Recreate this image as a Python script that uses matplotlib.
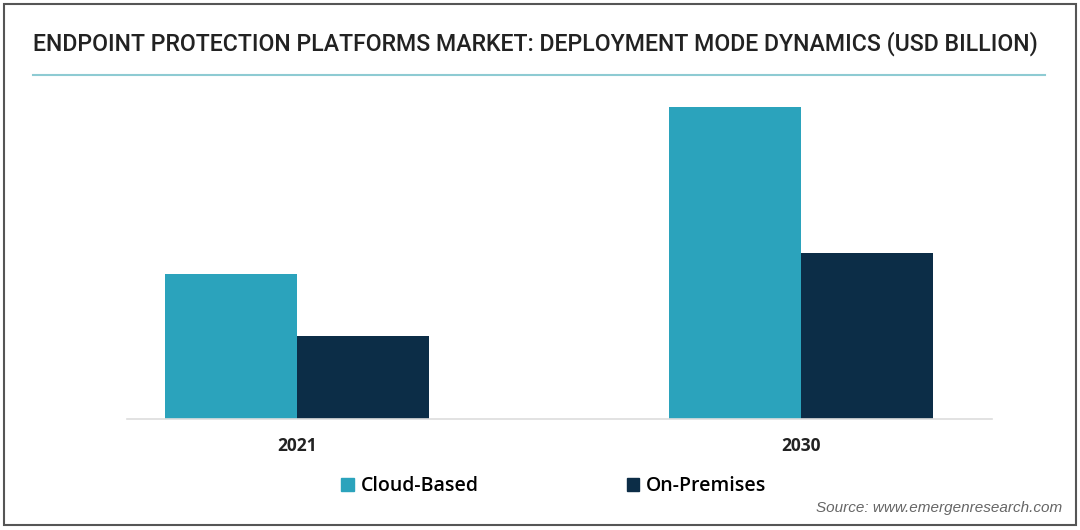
import matplotlib.pyplot as plt
from matplotlib.patches import Rectangle, Patch
from matplotlib.lines import Line2D

years = ["2021", "2030"]
cloud_based = [14.5, 31.2]
on_premises = [8.3, 16.6]

cloud_color = "#2ba3bc"
onprem_color = "#0c2d47"

fig = plt.figure(figsize=(10.8, 5.3), dpi=100)

# outer frame
fig.patches.append(Rectangle((4 / 1080, 5 / 530), 1072 / 1080, 521 / 530, transform=fig.transFigure,
                             fill=False, edgecolor="#555555", linewidth=1.5))

# title and underline
fig.text(33 / 1080, 1 - 44 / 530, "ENDPOINT PROTECTION PLATFORMS MARKET: DEPLOYMENT MODE DYNAMICS (USD BILLION)",
         fontsize=16.7, family="Roboto", fontweight="medium", color="#222222", va="center", ha="left")
fig.add_artist(Line2D([33 / 1080, 1045 / 1080], [1 - 75 / 530, 1 - 75 / 530], transform=fig.transFigure,
                      color="#8ecbd3", linewidth=1.5))

ax = fig.add_axes([127 / 1080, 1 - 419 / 530, 865 / 1080, 329 / 530])
x = range(len(years))
w = 0.262
ax.bar([i - w / 2 for i in x], cloud_based, width=w, color=cloud_color, label="Cloud-Based")
ax.bar([i + w / 2 for i in x], on_premises, width=w, color=onprem_color, label="On-Premises")

ax.set_xlim(-0.337, 1.379)
ax.set_ylim(0, 32.9)
ax.set_xticks(list(x))
ax.set_xticklabels(years, fontsize=12.5, fontweight="bold", family="Open Sans", color="#222222")
ax.tick_params(axis="x", length=0, pad=13)
ax.set_yticks([])
for s in ["top", "right", "left"]:
    ax.spines[s].set_visible(False)
ax.spines["bottom"].set_color("#dddddd")
ax.spines["bottom"].set_linewidth(1.2)

handles = [Patch(color=cloud_color), Patch(color=onprem_color)]
fig.legend(handles, ["Cloud-Based", "On-Premises"], loc="center", bbox_to_anchor=(554 / 1080, 1 - 486 / 530),
           ncol=2, frameon=False, handlelength=0.65, handleheight=0.65, handletextpad=0.35,
           columnspacing=7.6, prop={"family": "Open Sans", "weight": "semibold", "size": 14})

fig.text(1062 / 1080, 1 - 508 / 530, "Source: www.emergenresearch.com", fontsize=11, style="italic",
         color="#666666", ha="right", va="center", family="Liberation Sans")

fig.savefig("out.png", dpi=100, facecolor="white")
